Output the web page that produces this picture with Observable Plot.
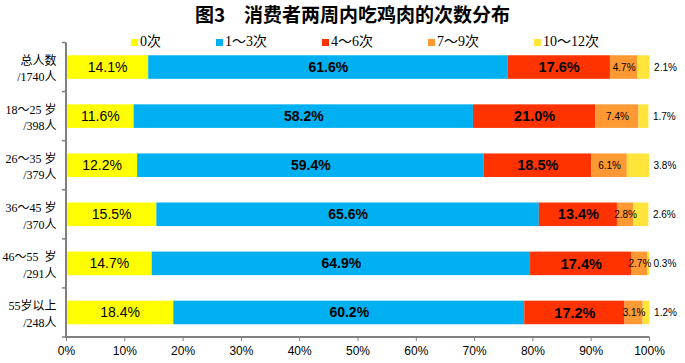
<!DOCTYPE html>
<html><head><meta charset="utf-8">
<script src="https://cdn.jsdelivr.net/npm/d3@7"></script>
<script src="https://cdn.jsdelivr.net/npm/@observablehq/plot@0.6"></script>
<style>
body{margin:0;background:#fff;}
#wrap{position:relative;width:685px;height:363px;}
#title{position:absolute;top:2px;left:10px;width:685px;text-align:center;font:700 19px "Noto Sans CJK SC";line-height:24px;color:#000;}
#legend{position:absolute;top:33px;left:131px;display:flex;gap:55px;font:14px "Liberation Serif","Noto Sans CJK SC";line-height:18px;color:#000;}
#legend span.it{display:flex;align-items:center;white-space:pre;}
.sw{display:inline-block;width:7px;height:7px;margin-right:2px;}
#chart{position:absolute;top:0;left:0;}
</style></head>
<body><div id="wrap"><div id="chart"></div><div id="title">图3　消费者两周内吃鸡肉的次数分布</div><div id="legend"></div></div>
<script>
const groups = ["总人数", "18～25岁", "26～35岁", "36～45岁", "46～55岁", "55岁以上"];
const groupLabels = ["总人数\n/1740人", "18～25 岁\n/398人", "26～35 岁\n/379人", "36～45 岁\n/370人", "46～55  岁\n/291人", "55岁以上\n/248人"];
const categories = ["0次", "1～3次", "4～6次", "7～9次", "10～12次"];
const colors = ["#FFFF00", "#00B0F0", "#FF3300", "#FF9933", "#FFE43C"];
const times0 = [14.1, 11.6, 12.2, 15.5, 14.7, 18.4];
const times1to3 = [61.6, 58.2, 59.4, 65.6, 64.9, 60.2];
const times4to6 = [17.6, 21.0, 18.5, 13.4, 17.4, 17.2];
const times7to9 = [4.7, 7.4, 6.1, 2.8, 2.7, 3.1];
const times10to12 = [2.1, 1.7, 3.8, 2.6, 0.3, 1.2];
const xTicks = [0, 0.1, 0.2, 0.3, 0.4, 0.5, 0.6, 0.7, 0.8, 0.9, 1];

const series = [times0, times1to3, times4to6, times7to9, times10to12];
const data = [];
groups.forEach((g, i) => series.forEach((s, j) => data.push({group: g, cat: categories[j], pct: s[i], value: s[i] / 100})));
const labelOf = new Map(groups.map((g, i) => [g, groupLabels[i]]));

// legend
const lg = document.getElementById("legend");
categories.forEach((c, j) => {
  const it = document.createElement("span"); it.className = "it";
  const sw = document.createElement("span"); sw.className = "sw"; sw.style.background = colors[j];
  it.appendChild(sw); it.appendChild(document.createTextNode(c)); lg.appendChild(it);
});

const txt = d => d.pct.toFixed(1) + "%";
const stackOpts = {x: "value", y: "group", z: "cat", text: txt};
const sans = "Liberation Sans, Arial, sans-serif";

const boundaryTicks = (index, scales, values, dims) => {
  const y = scales.y;
  const bw = y.bandwidth();
  const step = y.step ? y.step() : (dims.height - dims.marginTop - dims.marginBottom) / groups.length;
  const ys = groups.map(g => y(g) - (step - bw) / 2);
  ys.push(y(groups[groups.length - 1]) + bw + (step - bw) / 2);
  const g = d3.create("svg:g");
  ys.forEach(v => g.append("line").attr("x1", dims.marginLeft - 4).attr("x2", dims.marginLeft)
    .attr("y1", v).attr("y2", v).attr("stroke", "#808080").attr("stroke-width", 1.5));
  g.append("line").attr("x1", dims.marginLeft - 1).attr("x2", dims.width - dims.marginRight + 0.5)
    .attr("y1", dims.height - dims.marginBottom).attr("y2", dims.height - dims.marginBottom)
    .attr("stroke", "#808080").attr("stroke-width", 2);
  return g.node();
};

const chart = Plot.plot({
  width: 685, height: 363,
  marginTop: 42.5, marginBottom: 26, marginLeft: 66, marginRight: 36,
  style: {background: "transparent", color: "black"},
  x: {domain: [0, 1], label: null},
  y: {domain: groups, paddingInner: 0.52, paddingOuter: 0.26, round: false, label: null},
  color: {domain: categories, range: colors},
  marks: [
    Plot.barX(data, Plot.stackX({x: "value", y: "group", fill: "cat"})),
    Plot.text(data, Plot.filter(d => d.cat === categories[0], Plot.stackX({...stackOpts, fontSize: 14, fontFamily: sans, fill: "black"}))),
    Plot.text(data, Plot.filter(d => d.cat === categories[1], Plot.stackX({...stackOpts, fontSize: 14, fontWeight: "bold", fontFamily: sans, fill: "black"}))),
    Plot.text(data, Plot.filter(d => d.cat === categories[2], Plot.stackX({...stackOpts, fontSize: 14.5, fontWeight: "bold", fontFamily: sans, fill: "black"}))),
    Plot.text(data, Plot.filter(d => d.cat === categories[3], Plot.stackX({...stackOpts, fontSize: 10, fontFamily: sans, fill: "black"}))),
    Plot.text(data, Plot.filter(d => d.cat === categories[4], Plot.stackX2({...stackOpts, fontSize: 10, fontFamily: sans, fill: "black", textAnchor: "start", dx: 4}))),
    Plot.ruleX([0], {stroke: "#808080", strokeWidth: 2, dx: -0.5}),
    boundaryTicks,
    Plot.axisX({ticks: xTicks, tickFormat: d3.format(".0%"), tickSize: 4, tickPadding: 5, stroke: "#808080", fill: "black", fontSize: 12, fontFamily: sans, label: null}),
    Plot.axisY({tickSize: 0, tickPadding: 10, tickFormat: d => labelOf.get(d), fontSize: 12, lineHeight: 1.4, fill: "black", fontFamily: "Liberation Serif, Noto Sans CJK SC, serif", label: null})
  ]
});
document.getElementById("chart").appendChild(chart);
</script>
</body></html>
